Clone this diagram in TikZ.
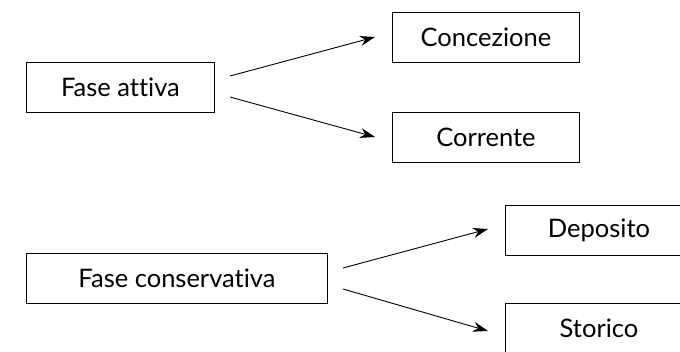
\documentclass[tikz,border=0pt]{standalone}
\usepackage{fontspec}
\setmainfont[Ligatures={NoCommon}]{Lato}
\usetikzlibrary{arrows.meta}
\begin{document}
\begin{tikzpicture}[x=1pt,y=-1pt,
  box/.style={draw,line width=0.9pt,minimum height=50pt,inner sep=0pt,font=\fontsize{25.5}{28}\selectfont,anchor=north west},
  conn/.style={line width=0.9pt,-{Stealth[length=15pt,width=10pt]}}]
\useasboundingbox (0,0) rectangle (680,351);
\clip (0,0) rectangle (680,351);
\node[box,minimum width=188pt] (fa) at (26,62) {Fase attiva};
\node[box,minimum width=187pt] (co) at (392,12) {Concezione};
\node[box,minimum width=187pt] (cr) at (392,112) {Corrente};
\node[box,minimum width=301pt] (fc) at (26,253) {Fase conservativa};
\node[box,minimum width=187pt] (de) at (505,205) {Deposito};
\node[box,minimum width=187pt] (st) at (505,303) {Storico};
\coordinate (a1) at (230,76);
\coordinate (a2) at (230,97);
\coordinate (b1) at (343,268);
\coordinate (b2) at (343,289);
\coordinate (t1) at (375,37);
\coordinate (t2) at (375,137);
\coordinate (t3) at (488,229);
\coordinate (t4) at (488,331);
\draw[conn] (a1) -- (t1);
\draw[conn] (a2) -- (t2);
\draw[conn] (b1) -- (t3);
\draw[conn] (b2) -- (t4);
\end{tikzpicture}
\end{document}
